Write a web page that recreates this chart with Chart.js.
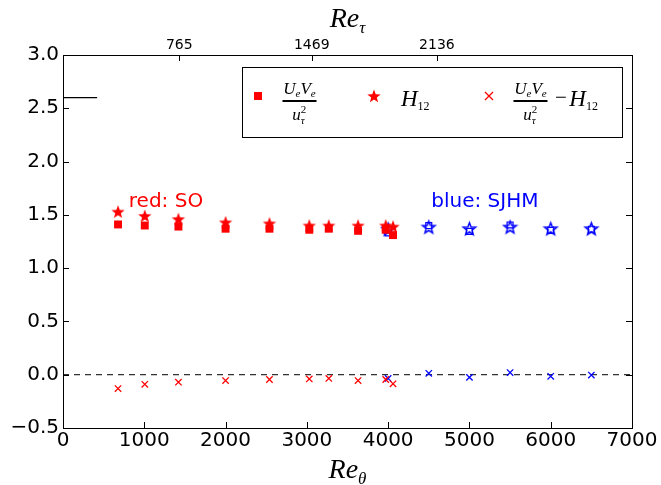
<!DOCTYPE html>
<html><head><meta charset="utf-8">
<script src="https://cdn.jsdelivr.net/npm/chart.js@4.4.0/dist/chart.umd.min.js"></script>
<style>html,body{margin:0;padding:0;background:#fff}#wrap{width:661px;height:485px}</style>
</head><body><div id="wrap"><canvas id="c"></canvas></div>
<script>
// Re_theta positions and values
const reThetaSO = [677,1006,1420,2000,2540,3030,3270,3630,3970,4060];
const uvSO   = [1.41,1.40,1.39,1.37,1.37,1.36,1.37,1.35,1.36,1.31];
const h12SO  = [1.53,1.49,1.46,1.43,1.42,1.40,1.40,1.40,1.40,1.39];
const diffSO = [-0.13,-0.09,-0.07,-0.055,-0.045,-0.04,-0.035,-0.055,-0.045,-0.085];
const reThetaSJHM = [4000,4500,5000,5500,6000,6500];
const uvSJHM   = [1.33,1.40,1.345,1.405,1.355,1.365];
const h12SJHM  = [1.365,1.385,1.37,1.385,1.37,1.37];
const diffSJHM = [-0.035,0.013,-0.025,0.02,-0.015,-0.003];
const reTauPos = [1430,3060,4600];
const reTauLabels = ['765','1469','2136'];
const zeroLine = [[0,0],[7000,0]];
const shortLine = [[0,2.6],[420,2.6]];

const pts = (xs,ys)=>xs.map((x,i)=>({x, y:ys[i]}));
const seg = arr=>arr.map(p=>({x:p[0], y:p[1]}));

function starImg(fill, stroke, r, lw){
  const c = document.createElement('canvas');
  const s = Math.ceil(2*r+lw+2); c.width = s; c.height = s;
  const g = c.getContext('2d'); const cx = s/2, cy = s/2 + r*0.08;
  g.beginPath();
  for(let i=0;i<10;i++){
    const a = -Math.PI/2 + i*Math.PI/5, rr = i%2 ? r*0.42 : r;
    const px = cx + rr*Math.cos(a), py = cy + rr*Math.sin(a);
    i ? g.lineTo(px,py) : g.moveTo(px,py);
  }
  g.closePath();
  if(fill){ g.fillStyle = fill; g.fill(); }
  if(stroke){ g.strokeStyle = stroke; g.lineWidth = lw; g.stroke(); }
  return c;
}
const redStar = starImg('#ff0000', null, 7, 0);
const blueStar = starImg(null, '#0000ff', 6.5, 1.5);

const SERIF = '"Liberation Serif", "DejaVu Serif", serif';

function drawRuns(ctx, runs, x, y, align){
  // runs: [text, size, dy, italic]
  let w = 0;
  runs.forEach(r=>{ ctx.font = (r[3]?'italic ':'') + r[1] + 'px ' + SERIF; w += ctx.measureText(r[0]).width; });
  let cx = align === 'center' ? x - w/2 : x;
  runs.forEach(r=>{
    ctx.font = (r[3]?'italic ':'') + r[1] + 'px ' + SERIF;
    ctx.fillText(r[0], cx, y + r[2]);
    cx += ctx.measureText(r[0]).width;
  });
  return w;
}
function drawFrac(ctx, cx, ybar){
  ctx.fillStyle = '#000'; ctx.textAlign = 'left'; ctx.textBaseline = 'alphabetic';
  drawRuns(ctx, [['U',17,0,true],['e',11,3,true],['V',17,0,true],['e',11,3,true]], cx, ybar-7, 'center');
  ctx.fillRect(cx-17, ybar-1, 34, 2);
  ctx.font = 'italic 17px ' + SERIF;
  const uw = ctx.measureText('u').width;
  const x0 = cx - (uw+6)/2;
  ctx.fillText('u', x0, ybar+19);
  ctx.font = '11px ' + SERIF; ctx.fillText('2', x0+uw, ybar+12);
  ctx.font = 'italic 11px ' + SERIF; ctx.fillText('τ', x0+uw, ybar+23);
}

const decor = {
  id:'decor',
  afterDraw(chart){
    const {ctx, chartArea:a, scales} = chart;
    const x = scales.x, y = scales.y;
    ctx.save();
    ctx.strokeStyle = '#000'; ctx.lineWidth = 1;
    ctx.strokeRect(a.left+0.5, a.top+0.5, a.right-a.left, a.bottom-a.top);
    ctx.beginPath();
    x.ticks.forEach(t=>{ const px = Math.round(x.getPixelForValue(t.value))+0.5; ctx.moveTo(px,a.bottom); ctx.lineTo(px,a.bottom-6); });
    reTauPos.forEach(v=>{ const px = Math.round(x.getPixelForValue(v))+0.5; ctx.moveTo(px,a.top); ctx.lineTo(px,a.top+6); });
    y.ticks.forEach(t=>{ const py = Math.round(y.getPixelForValue(t.value))+0.5;
      ctx.moveTo(a.left,py); ctx.lineTo(a.left+6,py); ctx.moveTo(a.right,py); ctx.lineTo(a.right-6,py); });
    ctx.stroke();
    // top Re_tau labels
    ctx.fillStyle = '#000'; ctx.font = '14px "DejaVu Sans"'; ctx.textAlign = 'center'; ctx.textBaseline = 'alphabetic';
    reTauPos.forEach((v,i)=> ctx.fillText(reTauLabels[i], x.getPixelForValue(v), a.top-6));
    // axis titles
    ctx.textAlign = 'left';
    drawRuns(ctx, [['Re',28,0,true],['θ',17,6,true]], (a.left+a.right)/2, 478, 'center');
    drawRuns(ctx, [['Re',28,0,true],['τ',17,6,true]], (a.left+a.right)/2, 27, 'center');
    // annotations
    ctx.font = '20px "DejaVu Sans"';
    ctx.fillStyle = '#ff0000'; ctx.fillText('red: SO', x.getPixelForValue(810), y.getPixelForValue(1.575));
    ctx.fillStyle = '#0000ff'; ctx.fillText('blue: SJHM', x.getPixelForValue(4530), y.getPixelForValue(1.575));
    // legend
    ctx.strokeStyle = '#000'; ctx.lineWidth = 1;
    ctx.strokeRect(242.5, 67.5, 380, 70);
    ctx.fillStyle = '#ff0000'; ctx.fillRect(254, 92, 8, 8);
    ctx.drawImage(redStar, 374 - redStar.width/2, 96 - redStar.height/2);
    ctx.strokeStyle = '#ff0000'; ctx.lineWidth = 1.3; ctx.beginPath();
    ctx.moveTo(485,92); ctx.lineTo(493,100); ctx.moveTo(493,92); ctx.lineTo(485,100); ctx.stroke();
    drawFrac(ctx, 299.5, 101);
    ctx.fillStyle = '#000';
    drawRuns(ctx, [['H',23,0,true],['12',12,4,false]], 401, 106, 'left');
    drawFrac(ctx, 530.5, 101);
    ctx.fillStyle = '#000';
    drawRuns(ctx, [['−',21,-2,false],[' ',10,0,false],['H',23,0,true],['12',12,4,false]], 555, 106, 'left');
    ctx.restore();
  }
};

new Chart(document.getElementById('c'), {
  type:'scatter',
  data:{datasets:[
    {data:pts(reThetaSO,uvSO), pointStyle:'rect', pointRadius:5.6, backgroundColor:'#ff0000', borderColor:'#ff0000', borderWidth:0},
    {data:pts(reThetaSO,h12SO), pointStyle:redStar},
    {data:pts(reThetaSO,diffSO), pointStyle:'crossRot', pointRadius:4.5, borderColor:'#ff0000', borderWidth:1.3},
    {data:pts(reThetaSJHM,uvSJHM), pointStyle:'rect', pointRadius:4.2, backgroundColor:'rgba(0,0,0,0)', borderColor:'#0000ff', borderWidth:1.2},
    {data:pts(reThetaSJHM,h12SJHM), pointStyle:blueStar},
    {data:pts(reThetaSJHM,diffSJHM), pointStyle:'crossRot', pointRadius:4.5, borderColor:'#0000ff', borderWidth:1.3},
    {data:seg(zeroLine), showLine:true, pointRadius:0, borderColor:'#333', borderWidth:1.2, borderDash:[6,5]},
    {data:seg(shortLine), showLine:true, pointRadius:0, borderColor:'#000', borderWidth:1.2}
  ]},
  options:{
    responsive:true, maintainAspectRatio:false, animation:false,
    layout:{padding:{right:29, left:0, top:0, bottom:0}},
    plugins:{legend:{display:false}, tooltip:{enabled:false}},
    elements:{point:{hoverRadius:0}},
    scales:{
      x:{type:'linear', position:'bottom', min:0, max:7000,
        ticks:{stepSize:1000, color:'#000', font:{family:'DejaVu Sans', size:20}, padding:1, maxRotation:0,
          callback:v=>String(v)},
        grid:{display:false, drawTicks:false}, border:{display:false},
        afterFit(s){ s.height = 57; }},
      x2:{type:'linear', position:'top', min:0, max:7000, display:true,
        ticks:{display:false}, grid:{display:false, drawTicks:false}, border:{display:false},
        afterFit(s){ s.height = 55; }},
      y:{min:-0.5, max:3.0,
        ticks:{stepSize:0.5, color:'#000', font:{family:'DejaVu Sans', size:20}, padding:4,
          callback:v=>v.toFixed(1).replace('-','−')},
        grid:{display:false, drawTicks:false}, border:{display:false},
        afterFit(s){ s.height = undefined; s.width = 63; }}
    }
  },
  plugins:[decor]
});
</script></body></html>
